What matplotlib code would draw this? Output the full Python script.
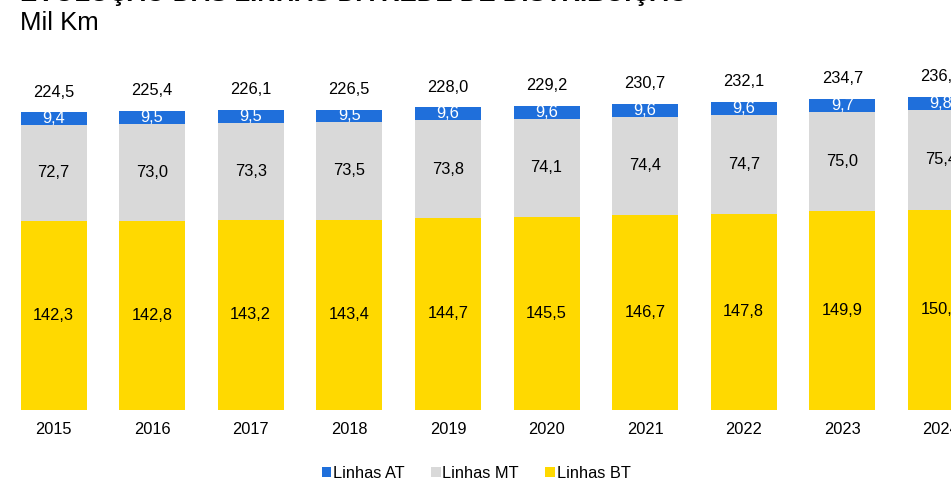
import matplotlib
matplotlib.use("Agg")
import matplotlib.pyplot as plt

years = ["2015", "2016", "2017", "2018", "2019", "2020", "2021", "2022", "2023", "2024"]
linhas_bt = [142.3, 142.8, 143.2, 143.4, 144.7, 145.5, 146.7, 147.8, 149.9, 150.9]
linhas_mt = [72.7, 73.0, 73.3, 73.5, 73.8, 74.1, 74.4, 74.7, 75.0, 75.4]
linhas_at = [9.4, 9.5, 9.5, 9.5, 9.6, 9.6, 9.6, 9.6, 9.7, 9.8]
totais = [224.5, 225.4, 226.1, 226.5, 228.0, 229.2, 230.7, 232.1, 234.7, 236.1]

C_AT = "#1F6FDB"
C_MT = "#D9D9D9"
C_BT = "#FFD900"

plt.rcParams['font.family'] = ['Liberation Sans', 'DejaVu Sans']

W, H = 951, 482
fig = plt.figure(figsize=(W / 100, H / 100), dpi=100)

bottom_px = 410
top_px = 60
ax = fig.add_axes([0, 1 - bottom_px / H, 1, (bottom_px - top_px) / H])
ppu = 1.327
ax.set_ylim(0, (bottom_px - top_px) / ppu)
spacing = 98.6
xmin = -53.5 / spacing
ax.set_xlim(xmin, xmin + W / spacing)

x = list(range(len(years)))
bw = 66 / spacing
b1 = ax.bar(x, linhas_bt, width=bw, color=C_BT, label="Linhas BT")
b2 = ax.bar(x, linhas_mt, width=bw, bottom=linhas_bt, color=C_MT, label="Linhas MT")
bot_at = [a + b for a, b in zip(linhas_bt, linhas_mt)]
b3 = ax.bar(x, linhas_at, width=bw, bottom=bot_at, color=C_AT, label="Linhas AT")

def fmt(v):
    return f"{v:.1f}".replace('.', ',')

fs = 11.8
for i in x:
    ax.text(i, linhas_bt[i] / 2, fmt(linhas_bt[i]), ha='center', va='center', fontsize=fs, color='black')
    ax.text(i, linhas_bt[i] + linhas_mt[i] / 2, fmt(linhas_mt[i]), ha='center', va='center', fontsize=fs, color='black')
    ax.text(i, bot_at[i] + linhas_at[i] / 2, fmt(linhas_at[i]), ha='center', va='center', fontsize=fs, color='white')
    ax.annotate(fmt(totais[i]), (i, bot_at[i] + linhas_at[i]), xytext=(0, 14.5), textcoords='offset points',
                ha='center', va='center', fontsize=fs, color='black')

ax.set_xticks(x)
ax.set_xticklabels(years, fontsize=fs)
ax.tick_params(axis='x', length=0, pad=8.5)
ax.set_yticks([])
for s in ax.spines.values():
    s.set_visible(False)

fig.text(20 / W, 1 - 1 / H, "EVOLUÇÃO DAS LINHAS DA REDE DE DISTRIBUIÇÃO", ha='left', va='baseline',
         fontsize=18.5, fontweight='bold')
fig.text(20 / W, 1 - 23 / H, "Mil Km", ha='left', va='center', fontsize=18.5)

fig.legend(handles=[b3, b2, b1], labels=["Linhas AT", "Linhas MT", "Linhas BT"],
           loc='center', bbox_to_anchor=(476 / W, 1 - 473 / H), ncol=3, frameon=False,
           fontsize=fs, handlelength=0.6, handleheight=0.6, handletextpad=0.1, columnspacing=1.6)

fig.savefig("out.png", dpi=100)
